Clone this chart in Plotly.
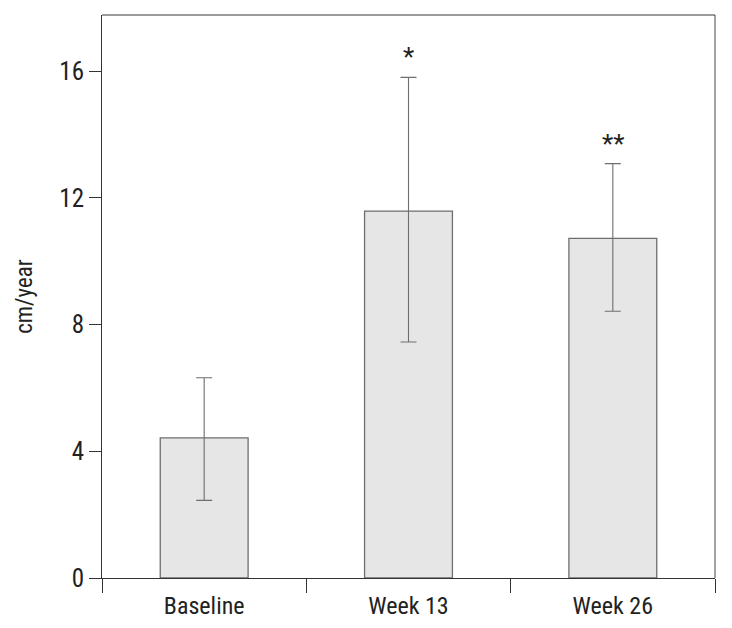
import plotly.graph_objects as go

categories = ["Baseline", "Week 13", "Week 26"]
means = [4.42, 11.58, 10.72]
lower = [2.45, 7.45, 8.42]
upper = [6.32, 15.8, 13.08]
marks = ["", "*", "**"]
yticks = [0, 4, 8, 12, 16]

err_plus = [u - m for u, m in zip(upper, means)]
err_minus = [m - l for m, l in zip(means, lower)]

FONT = "Liberation Sans Narrow, Arial Narrow, Roboto Condensed, sans-serif"

fig = go.Figure(go.Bar(
    x=categories, y=means, width=0.43,
    marker=dict(color="#e6e6e6", line=dict(color="#6e6e6e", width=1.3)),
    error_y=dict(type="data", symmetric=False, array=err_plus, arrayminus=err_minus,
                 color="#6e6e6e", thickness=1.1, width=8),
))

for c, u, m in zip(categories, upper, marks):
    if m:
        fig.add_annotation(x=c, y=u, text=m, showarrow=False, yanchor="bottom",
                           yshift=3, font=dict(family=FONT, size=26, color="#222"))

fig.add_shape(type="line", xref="paper", yref="paper", x0=0, x1=1, y0=1, y1=1,
              line=dict(color="#7a7a7a", width=1.5))
fig.add_shape(type="line", xref="paper", yref="paper", x0=1, x1=1, y0=0, y1=1,
              line=dict(color="#444", width=1))

fig.update_layout(
    width=732, height=628,
    margin=dict(l=94, r=25, t=7, b=58),
    paper_bgcolor="white", plot_bgcolor="white",
    showlegend=False,
    font=dict(family=FONT, size=24, color="#222"),
    xaxis=dict(showline=True, linecolor="#333", linewidth=1, ticks="outside",
               tickson="boundaries", ticklen=14, tickcolor="#333", tickwidth=1,
               showgrid=False, tickfont=dict(size=24), ticklabelstandoff=6),
    yaxis=dict(range=[0, 17.77], tickvals=yticks, showline=True, linecolor="#333",
               linewidth=1, ticks="outside", ticklen=12, tickcolor="#333",
               showgrid=False, zeroline=False, tickfont=dict(size=25),
               title=dict(text="cm/year", font=dict(size=23), standoff=20)),
)

fig.write_html("out.html")
